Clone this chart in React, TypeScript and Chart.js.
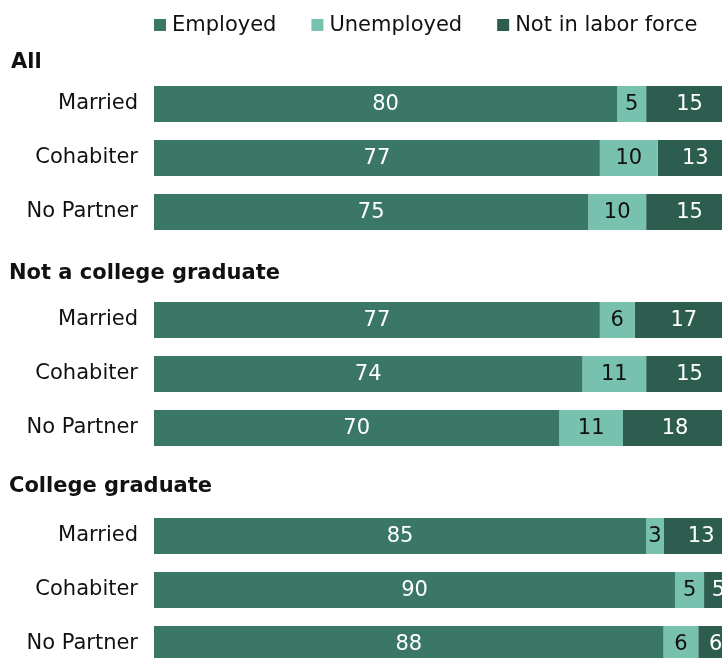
import React, { useEffect, useRef } from "react";
import { Chart, registerables } from "chart.js";

Chart.register(...registerables);

const groups = ["All", "Not a college graduate", "College graduate"];
const statuses = ["Married", "Cohabiter", "No Partner"];
const employed = [80, 77, 75, 77, 74, 70, 85, 90, 88];
const unemployed = [5, 10, 10, 6, 11, 11, 3, 5, 6];
const notInLabor = [15, 13, 15, 17, 15, 18, 13, 5, 6];
const seriesNames = ["Employed", "Unemployed", "Not in labor force"];
const seriesColors = ["#3a7767", "#78c1ae", "#2c5d4f"];
const labelColors = ["#ffffff", "#111111", "#ffffff"];
const headerOffsets = [13, 8, 5];

const FONT = "'DejaVu Sans', Verdana, sans-serif";

// Build category list with a header slot before each group
const categories: string[] = [];
const headerIndex: number[] = [];
const withHeaders = (vals: number[]) => {
  const out: (number | null)[] = [];
  groups.forEach((_, g) => {
    out.push(null);
    statuses.forEach((_, s) => out.push(vals[g * statuses.length + s]));
  });
  return out;
};
groups.forEach(() => {
  headerIndex.push(categories.length);
  categories.push("");
  statuses.forEach((s) => categories.push(s));
});

export default function App() {
  const ref = useRef<HTMLCanvasElement>(null);
  useEffect(() => {
    if (!ref.current) return;
    const valueLabels = {
      id: "valueLabels",
      afterDatasetsDraw(chart: any) {
        const ctx = chart.ctx;
        ctx.save();
        ctx.font = `21px ${FONT}`;
        ctx.textAlign = "center";
        ctx.textBaseline = "middle";
        chart.data.datasets.forEach((ds: any, di: number) => {
          const meta = chart.getDatasetMeta(di);
          meta.data.forEach((el: any, i: number) => {
            const v = ds.data[i];
            if (v == null) return;
            ctx.fillStyle = labelColors[di];
            ctx.fillText(String(v), (el.x + el.base) / 2, el.y + 1);
          });
        });
        ctx.restore();
      },
    };
    const headers = {
      id: "headers",
      afterDraw(chart: any) {
        const ctx = chart.ctx;
        const y = chart.scales.y;
        ctx.save();
        ctx.font = `bold 21px ${FONT}`;
        ctx.fillStyle = "#111111";
        ctx.textAlign = "left";
        ctx.textBaseline = "middle";
        groups.forEach((g, i) => {
          const py = y.getPixelForValue(headerIndex[i]) + headerOffsets[i];
          ctx.fillText(g, i === 0 ? 11 : 9, py);
        });
        // legend
        ctx.font = `21px ${FONT}`;
        let x = chart.chartArea.left;
        const ly = 25;
        seriesNames.forEach((n, i) => {
          ctx.fillStyle = seriesColors[i];
          ctx.fillRect(x, ly - 6, 12, 12);
          x += 18;
          ctx.fillStyle = "#111111";
          ctx.fillText(n, x, ly + 1);
          x += ctx.measureText(n).width + 35;
        });
        ctx.restore();
      },
    };
    const chart = new Chart(ref.current, {
      type: "bar",
      data: {
        labels: categories,
        datasets: [employed, unemployed, notInLabor].map((vals, i) => ({
          label: seriesNames[i],
          data: withHeaders(vals),
          backgroundColor: seriesColors[i],
          borderWidth: 0,
          barPercentage: 1,
          categoryPercentage: 36 / 54,
        })),
      },
      options: {
        indexAxis: "y",
        responsive: false,
        animation: false,
        devicePixelRatio: 1,
        layout: { padding: { top: 23, bottom: 19, right: 17, left: 0 } },
        plugins: { legend: { display: false }, tooltip: { enabled: false } },
        scales: {
          x: { stacked: true, min: 0, max: 100, display: false },
          y: {
            stacked: true,
            grid: { display: false, drawTicks: false },
            border: { display: false },
            ticks: {
              padding: 16,
              color: "#111111",
              font: { family: FONT, size: 21 },
              autoSkip: false,
            },
            afterFit(scale: any) {
              scale.width = 154;
              scale.paddingTop = 0;
              scale.paddingBottom = 0;
            },
          },
        },
      },
      plugins: [valueLabels, headers],
    } as any);
    return () => chart.destroy();
  }, []);
  return (
    <div
      style={{
        position: "fixed",
        left: 0,
        top: 0,
        width: 722,
        height: 658,
        overflow: "hidden",
        background: "#ffffff",
      }}
    >
      <canvas ref={ref} width={750} height={690} style={{ display: "block" }} />
    </div>
  );
}
